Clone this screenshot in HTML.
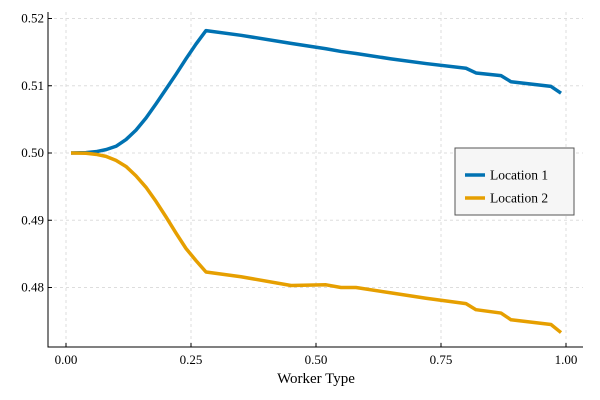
<!DOCTYPE html>
<html><head><meta charset="utf-8"><style>
body{margin:0;background:#fff;}
svg{display:block;font-family:"Liberation Serif",serif;}
</style></head><body>
<svg id="chart" width="600" height="400"></svg>
<script>
const xs=[0.01,0.04,0.06,0.08,0.10,0.12,0.14,0.16,0.18,0.20,0.22,0.24,0.26,0.28,0.35,0.45,0.52,0.55,0.58,0.65,0.72,0.80,0.82,0.87,0.89,0.97,0.99];
const loc1=[0.5,0.50005,0.5002,0.5005,0.5010,0.5020,0.5034,0.5052,0.5073,0.5095,0.5117,0.5140,0.5162,0.5182,0.5175,0.5163,0.5155,0.5151,0.5148,0.5140,0.5133,0.5126,0.5119,0.5115,0.5106,0.5099,0.5089];
const loc2=[0.5,0.49997,0.4998,0.4995,0.4989,0.4980,0.4966,0.4949,0.4928,0.4905,0.4881,0.4858,0.4840,0.4823,0.4816,0.4803,0.4804,0.4800,0.4800,0.4792,0.4784,0.4776,0.4767,0.4762,0.4752,0.4745,0.4733];
const xTicks=[0,0.25,0.5,0.75,1.0];
const xTickLabels=["0.00","0.25","0.50","0.75","1.00"];
const yTicks=[0.48,0.49,0.50,0.51,0.52];
const yTickLabels=["0.48","0.49","0.50","0.51","0.52"];
const seriesNames=["Location 1","Location 2"];
const colors=["#0072b2","#e69f00"];
const NS="http://www.w3.org/2000/svg";
const svg=document.getElementById('chart');
const L=48,R=583,T=12,B=347;
const sx=v=>66+v*500;
const sy=v=>153-(v-0.5)*6725;
function el(tag,attrs,parent){const e=document.createElementNS(NS,tag);for(const k in attrs)e.setAttribute(k,attrs[k]);(parent||svg).appendChild(e);return e;}
xTicks.forEach((t,i)=>{
 const g=el('line',{x1:sx(t),x2:sx(t),y1:T,y2:B,stroke:'#ddd','stroke-dasharray':'3,3'});
 
 
 const tk=el('line',{x1:sx(t),x2:sx(t),y1:B,y2:B-4,stroke:'#000'});
 
 
 const tx=el('text',{x:sx(t),y:B+17,'text-anchor':'middle','font-size':'13'});
 tx.textContent=xTickLabels[i];
 
 
});
yTicks.forEach((t,i)=>{
 const g=el('line',{x1:L,x2:R,y1:sy(t),y2:sy(t),stroke:'#ddd','stroke-dasharray':'3,3'});
 
 
 const tk=el('line',{x1:L,x2:L+4,y1:sy(t),y2:sy(t),stroke:'#000'});
 
 
 const tx=el('text',{x:L-4,y:sy(t)+4,'text-anchor':'end','font-size':'13'});
 tx.textContent=yTickLabels[i];
 
 
});
const ax=el('path',{d:`M${L},${T}V${B}H${R}`,fill:'none',stroke:'#000'});


[loc1,loc2].forEach((s,j)=>{
 const p=el('polyline',{points:xs.map((x,i)=>sx(x)+','+sy(s[i])).join(' '),fill:'none',stroke:colors[j],'stroke-width':'3.5','stroke-linejoin':'round'});
 
 
});
const xl=el('text',{x:316,y:383,'text-anchor':'middle','font-size':'15'});
xl.textContent='Worker Type';


const lg=el('g',{});


el('rect',{x:455,y:148,width:119,height:67,fill:'#f6f6f6',stroke:'#555','stroke-width':'1'},lg);
seriesNames.forEach((n,j)=>{
 const y=175+j*23;
 const ln=el('line',{x1:465,x2:485,y1:y,y2:y,stroke:colors[j],'stroke-width':'3.5'},lg);
 
 
 const t=el('text',{x:490,y:y+4.5,'font-size':'13.5'},lg);
 t.textContent=n;
 
 
});
</script>
</body></html>
